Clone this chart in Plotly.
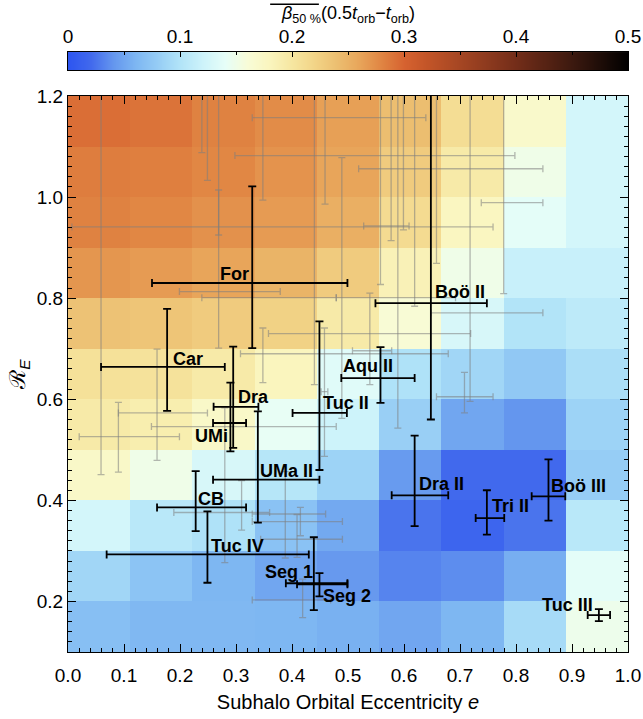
import plotly.graph_objects as go

# --- binned map of the median anisotropy change -------------------------
ecc_edges = [0.0, 0.1111, 0.2222, 0.3333, 0.4444, 0.5556, 0.6667, 0.7778, 0.8889, 1.0]
re_edges = [0.1, 0.2, 0.3, 0.4, 0.5, 0.6, 0.7, 0.8, 0.9, 1.0, 1.1, 1.2]

# rows run from R_E = 0.1-0.2 (first) up to 1.1-1.2 (last)
beta_grid = [
    [0.068, 0.062, 0.062, 0.061, 0.057, 0.050, 0.061, 0.092, 0.148],
    [0.088, 0.072, 0.061, 0.050, 0.042, 0.032, 0.036, 0.055, 0.138],
    [0.125, 0.105, 0.098, 0.070, 0.052, 0.025, 0.016, 0.025, 0.105],
    [0.172, 0.150, 0.128, 0.103, 0.085, 0.043, 0.020, 0.020, 0.080],
    [0.195, 0.190, 0.172, 0.142, 0.120, 0.082, 0.050, 0.040, 0.085],
    [0.206, 0.204, 0.195, 0.180, 0.135, 0.098, 0.088, 0.076, 0.095],
    [0.236, 0.234, 0.228, 0.222, 0.195, 0.162, 0.128, 0.100, 0.108],
    [0.269, 0.266, 0.260, 0.248, 0.228, 0.185, 0.150, 0.116, 0.116],
    [0.281, 0.278, 0.272, 0.266, 0.252, 0.212, 0.178, 0.138, 0.125],
    [0.284, 0.283, 0.278, 0.271, 0.260, 0.228, 0.195, 0.150, 0.125],
    [0.293, 0.290, 0.281, 0.275, 0.263, 0.240, 0.210, 0.170, 0.125],
]

cbar_levels = [0.0, 0.5]

# --- named dwarfs -------------------------------------------------------
dwarf_names = ["For", "Car", "Dra", "UMi", "Tuc II", "UMa II", "CB", "Tuc IV",
               "Seg 1", "Seg 2", "Aqu II", "Boö II", "Dra II", "Tri II",
               "Boö III", "Tuc III"]
dwarf_ecc = [0.329, 0.177, 0.295, 0.290, 0.449, 0.339, 0.228, 0.249,
             0.439, 0.449, 0.558, 0.648, 0.619, 0.748, 0.858, 0.948]
dwarf_ecc_lo = [0.150, 0.059, 0.260, 0.259, 0.401, 0.259, 0.159, 0.069,
                0.389, 0.409, 0.488, 0.549, 0.578, 0.728, 0.828, 0.928]
dwarf_ecc_hi = [0.499, 0.280, 0.340, 0.318, 0.498, 0.449, 0.318, 0.430,
                0.499, 0.499, 0.619, 0.748, 0.679, 0.779, 0.888, 0.968]
dwarf_re = [0.830, 0.664, 0.585, 0.553, 0.573, 0.441, 0.386, 0.293,
            0.236, 0.234, 0.642, 0.790, 0.410, 0.365, 0.408, 0.173]
dwarf_re_lo = [0.701, 0.577, 0.504, 0.497, 0.460, 0.356, 0.339, 0.237,
               0.183, 0.210, 0.593, 0.560, 0.349, 0.332, 0.360, 0.161]
dwarf_re_hi = [1.021, 0.779, 0.704, 0.633, 0.754, 0.576, 0.458, 0.378,
               0.327, 0.256, 0.703, 1.500, 0.528, 0.420, 0.481, 0.185]

# --- other satellites (grey) --------------------------------------------
sat_ecc = [0.269, 0.090, 0.159, 0.280, 0.310, 0.388, 0.409, 0.415, 0.419, 0.458,
           0.348, 0.539, 0.489, 0.589, 0.440, 0.269, 0.718, 0.708, 0.778, 0.658,
           0.599, 0.459, 0.577, 0.059, 0.239, 0.249, 0.348, 0.558, 0.619]
sat_ecc_lo = [0.007, 0.020, 0.090, 0.149, 0.189, 0.329, 0.344, 0.329, 0.329, 0.452,
              0.308, 0.508, 0.358, 0.479, 0.239, 0.199, 0.648, 0.658, 0.738, 0.519,
              0.298, 0.329, 0.528, 0.030, 0.220, 0.230, 0.330, 0.540, 0.600]
sat_ecc_hi = [0.759, 0.199, 0.249, 0.479, 0.360, 0.460, 0.490, 0.490, 0.469, 0.464,
              0.679, 0.578, 0.719, 0.692, 0.479, 0.379, 0.848, 0.759, 0.848, 0.848,
              0.798, 0.639, 0.609, 0.090, 0.260, 0.270, 0.370, 0.580, 0.640]
sat_re = [0.941, 0.526, 0.573, 0.546, 0.376, 0.373, 0.323, 0.358, 0.203, 0.615,
          0.690, 0.696, 0.730, 0.801, 0.801, 0.813, 0.771, 0.605, 0.989, 1.056,
          1.082, 1.157, 0.943, 1.300, 1.300, 1.300, 1.300, 1.300, 1.300]
sat_re_lo = [0.925, 0.456, 0.479, 0.277, 0.341, 0.286, 0.287, 0.330, 0.168, 0.487,
             0.633, 0.629, 0.562, 0.543, 0.629, 0.701, 0.596, 0.573, 0.809, 0.869,
             0.935, 0.986, 0.914, 0.451, 1.088, 1.033, 0.994, 0.827, 0.784]
sat_re_hi = [1.014, 0.594, 0.699, 0.583, 0.439, 0.457, 0.372, 0.386, 0.244, 0.741,
             0.741, 0.810, 1.078, 1.500, 1.500, 1.500, 1.500, 0.653, 1.500, 1.500,
             1.500, 1.500, 1.500, 1.600, 1.500, 1.500, 1.500, 1.500, 1.500]

# label placement (pixel offsets from each dwarf's centre)
label_shift = {
    "For": (-18, 9), "Car": (21, 8), "Dra": (20, 10), "UMi": (-19, -13),
    "Tuc II": (27, 10), "UMa II": (29, 9), "CB": (15, 8), "Tuc IV": (30, 8),
    "Seg 1": (-25, 11), "Seg 2": (28, -12), "Aqu II": (-12, 12),
    "Boö II": (29, 11), "Dra II": (27, 11), "Tri II": (24, 12),
    "Boö III": (30, 10), "Tuc III": (-31, 10),
}

temperature = [
    [0.00, "rgb(45,85,240)"], [0.04, "rgb(65,105,237)"], [0.08, "rgb(100,150,238)"],
    [0.12, "rgb(125,182,242)"], [0.16, "rgb(150,205,245)"], [0.20, "rgb(178,228,248)"],
    [0.24, "rgb(205,243,250)"], [0.28, "rgb(230,254,248)"], [0.32, "rgb(248,252,215)"],
    [0.36, "rgb(250,245,190)"], [0.40, "rgb(246,230,160)"], [0.44, "rgb(242,212,135)"],
    [0.48, "rgb(236,190,112)"], [0.52, "rgb(232,165,90)"], [0.56, "rgb(224,132,66)"],
    [0.60, "rgb(214,98,48)"], [0.64, "rgb(195,85,40)"], [0.70, "rgb(165,70,35)"],
    [0.80, "rgb(115,45,25)"], [0.90, "rgb(60,25,15)"], [1.00, "rgb(0,0,0)"],
]


def minus(centre, lo):
    return [c - l for c, l in zip(centre, lo)]


def plus(centre, hi):
    return [h - c for c, h in zip(centre, hi)]


fig = go.Figure()

fig.add_trace(go.Heatmap(
    x=ecc_edges, y=re_edges, z=beta_grid, zmin=0, zmax=0.5,
    colorscale=temperature, showscale=False, hoverinfo="skip",
    xaxis="x", yaxis="y",
))

# colour bar drawn as its own strip so the labels can sit on top
fig.add_trace(go.Heatmap(
    x=cbar_levels, y=[0, 1], z=[cbar_levels, cbar_levels], zmin=0, zmax=0.5,
    zsmooth="best", colorscale=temperature, showscale=False, hoverinfo="skip",
    xaxis="x2", yaxis="y2",
))

fig.add_trace(go.Scatter(
    x=sat_ecc, y=sat_re, mode="markers", marker=dict(size=1, opacity=0),
    error_x=dict(type="data", symmetric=False, array=plus(sat_ecc, sat_ecc_hi),
                 arrayminus=minus(sat_ecc, sat_ecc_lo),
                 color="rgba(125,125,125,0.55)", thickness=1.3, width=3.5),
    error_y=dict(type="data", symmetric=False, array=plus(sat_re, sat_re_hi),
                 arrayminus=minus(sat_re, sat_re_lo),
                 color="rgba(125,125,125,0.55)", thickness=1.3, width=3.5),
    hoverinfo="skip", xaxis="x", yaxis="y",
))

fig.add_trace(go.Scatter(
    x=dwarf_ecc, y=dwarf_re, mode="markers", marker=dict(size=1, opacity=0),
    error_x=dict(type="data", symmetric=False, array=plus(dwarf_ecc, dwarf_ecc_hi),
                 arrayminus=minus(dwarf_ecc, dwarf_ecc_lo),
                 color="black", thickness=1.8, width=4),
    error_y=dict(type="data", symmetric=False, array=plus(dwarf_re, dwarf_re_hi),
                 arrayminus=minus(dwarf_re, dwarf_re_lo),
                 color="black", thickness=1.8, width=4),
    text=dwarf_names, hoverinfo="text", xaxis="x", yaxis="y",
))

for name, ex, ry in zip(dwarf_names, dwarf_ecc, dwarf_re):
    dx, dy = label_shift[name]
    fig.add_annotation(x=ex, y=ry, xref="x", yref="y", text=f"<b>{name}</b>",
                       showarrow=False, xshift=dx, yshift=dy,
                       font=dict(size=18, color="black",
                                 family="Liberation Sans, Arial, sans-serif"))

# colour-bar title with the overline over beta_50%
fig.add_annotation(
    x=0.5, y=0.9785, xref="paper", yref="paper", showarrow=False,
    text="<i>β</i><sub>50 %</sub>(0.5<i>t</i><sub>orb</sub>−<i>t</i><sub>orb</sub>)",
    font=dict(size=18, color="black"), yanchor="middle",
)
fig.add_shape(type="line", xref="paper", yref="paper", x0=0.361, x1=0.448,
              y0=0.9935, y1=0.9935, line=dict(color="black", width=1.3))

axis_common = dict(showgrid=False, zeroline=False, showline=True, linecolor="black",
                   linewidth=1.3, ticks="inside", tickcolor="black", tickwidth=1.2,
                   mirror="ticks", automargin=False)

fig.update_layout(
    width=643, height=719,
    margin=dict(l=68, r=15, t=0, b=67, autoexpand=False),
    paper_bgcolor="white", plot_bgcolor="white", showlegend=False,
    font=dict(family="Liberation Sans, Arial, sans-serif", size=19, color="black"),
    xaxis=dict(domain=[0, 1], range=[0, 1], anchor="y", dtick=0.1, tick0=0,
               tickformat=".1f", ticklen=8, ticklabelstandoff=6,
               minor=dict(dtick=0.02, ticklen=4, ticks="inside", tickcolor="black"),
               title=dict(text="Subhalo Orbital Eccentricity <i>e</i>",
                          font=dict(size=20), standoff=10),
               **axis_common),
    yaxis=dict(domain=[0, 0.8528], range=[0.1, 1.2], anchor="x", dtick=0.2, tick0=0.2,
               tickformat=".1f", ticklen=8,
               minor=dict(dtick=0.02, ticklen=4, ticks="inside", tickcolor="black"),
               title=dict(text="ℛ<sub><i>E</i></sub>", font=dict(size=22), standoff=4),
               **axis_common),
    xaxis2=dict(domain=[0, 1], range=[0, 0.5], anchor="y2", side="top", dtick=0.1,
                tick0=0, showgrid=False, zeroline=False, showline=True,
                linecolor="black", linewidth=1, mirror=True, ticks="inside",
                ticklen=5, tickcolor="black", automargin=False,
                minor=dict(dtick=0.05, ticklen=3, ticks="inside", tickcolor="black")),
    yaxis2=dict(domain=[0.8926, 0.9202], range=[0, 1], anchor="x2", showgrid=False,
                zeroline=False, showline=True, linecolor="black", linewidth=1,
                mirror=True, showticklabels=False, ticks="", automargin=False),
)

fig.write_html("out.html")
